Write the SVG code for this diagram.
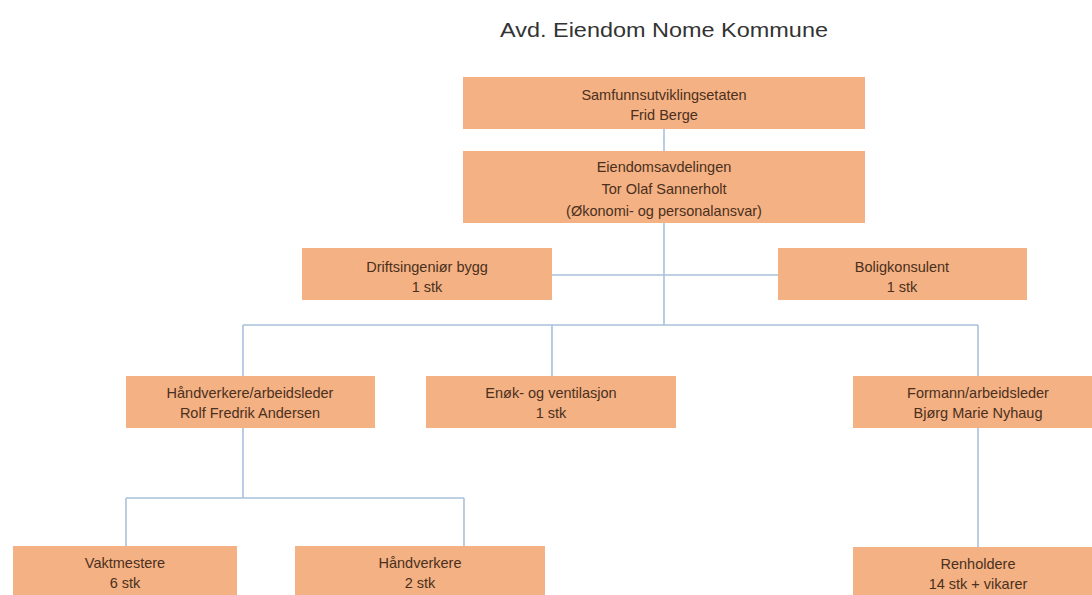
<svg xmlns="http://www.w3.org/2000/svg" width="1092" height="595" viewBox="0 0 1092 595">
<style>
.box{fill:#F4B183;}
.t{font-family:"Liberation Sans",Arial,sans-serif;font-size:14.5px;fill:#4a3020;text-anchor:middle;}
.title{font-family:"Liberation Sans",Arial,sans-serif;font-size:21px;fill:#333;text-anchor:middle;}
.c{stroke:#A9C0DA;stroke-width:1.6;fill:none;}
</style>
<rect width="1092" height="595" fill="#fff"/>
<text class="title" x="664" y="37" textLength="328" lengthAdjust="spacingAndGlyphs">Avd. Eiendom Nome Kommune</text>
<g id="connectors">
<line class="c" x1="664" y1="129" x2="664" y2="151"/>
<line class="c" x1="664" y1="223" x2="664" y2="325"/>
<line class="c" x1="552" y1="275" x2="778" y2="275"/>
<line class="c" x1="243" y1="325" x2="978" y2="325"/>
<line class="c" x1="243" y1="325" x2="243" y2="376"/>
<line class="c" x1="552" y1="325" x2="552" y2="376"/>
<line class="c" x1="978" y1="325" x2="978" y2="376"/>
<line class="c" x1="243" y1="428" x2="243" y2="498"/>
<line class="c" x1="126" y1="498" x2="464" y2="498"/>
<line class="c" x1="126" y1="498" x2="126" y2="546"/>
<line class="c" x1="464" y1="498" x2="464" y2="546"/>
<line class="c" x1="978" y1="428" x2="978" y2="547"/>
</g>
<g id="n1"><rect class="box" x="463" y="77" width="402" height="52"/><text class="t" x="664" y="100">Samfunnsutviklingsetaten</text><text class="t" x="664" y="120">Frid Berge</text></g>
<g id="n2"><rect class="box" x="463" y="151" width="402" height="72"/><text class="t" x="664" y="172">Eiendomsavdelingen</text><text class="t" x="664" y="194">Tor Olaf Sannerholt</text><text class="t" x="664" y="216">(Økonomi- og personalansvar)</text></g>
<g id="n3"><rect class="box" x="302" y="248" width="250" height="52"/><text class="t" x="427" y="272">Driftsingeniør bygg</text><text class="t" x="427" y="292">1 stk</text></g>
<g id="n4"><rect class="box" x="778" y="248" width="249" height="52"/><text class="t" x="902" y="272">Boligkonsulent</text><text class="t" x="902" y="292">1 stk</text></g>
<g id="n5"><rect class="box" x="126" y="376" width="249" height="52"/><text class="t" x="250" y="398">Håndverkere/arbeidsleder</text><text class="t" x="250" y="418">Rolf Fredrik Andersen</text></g>
<g id="n6"><rect class="box" x="426" y="376" width="250" height="52"/><text class="t" x="551" y="398">Enøk- og ventilasjon</text><text class="t" x="551" y="418">1 stk</text></g>
<g id="n7"><rect class="box" x="853" y="376" width="250" height="52"/><text class="t" x="978" y="398">Formann/arbeidsleder</text><text class="t" x="978" y="418">Bjørg Marie Nyhaug</text></g>
<g id="n8"><rect class="box" x="13" y="546" width="224" height="60"/><text class="t" x="125" y="568">Vaktmestere</text><text class="t" x="125" y="588">6 stk</text></g>
<g id="n9"><rect class="box" x="295" y="546" width="250" height="60"/><text class="t" x="420" y="568">Håndverkere</text><text class="t" x="420" y="588">2 stk</text></g>
<g id="n10"><rect class="box" x="853" y="547" width="250" height="60"/><text class="t" x="978" y="569">Renholdere</text><text class="t" x="978" y="589">14 stk + vikarer</text></g>
</svg>
